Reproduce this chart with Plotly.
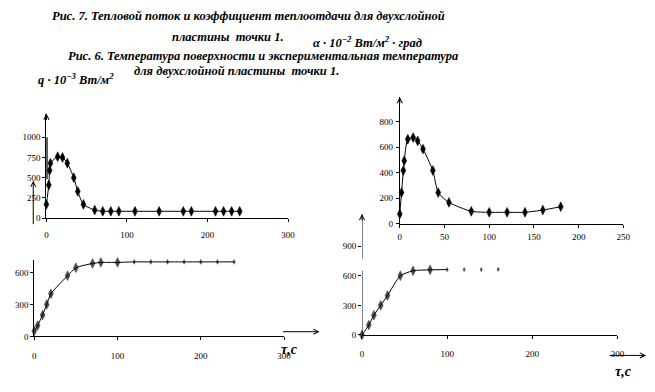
import plotly.graph_objects as go

W, H = 655, 392

# ---- data ----
# top-left: heat flux q·10^-3 W/m^2 vs time
tl_t = [0, 3, 4, 5, 14, 20, 26, 34, 39, 46, 60, 70, 80, 90, 110, 140, 170, 180, 210, 220, 230, 240]
tl_q = [170, 410, 590, 680, 760, 750, 680, 500, 330, 170, 100, 85, 85, 85, 85, 85, 85, 85, 85, 85, 85, 85]

# top-right: heat transfer coefficient alpha·10^-2 vs time
tr_t = [0, 2, 4, 5, 9, 15, 20, 26, 37, 43, 55, 80, 100, 120, 140, 160, 180]
tr_a = [77, 245, 418, 495, 663, 676, 650, 586, 418, 245, 168, 98, 90, 90, 90, 108, 134]

# bottom-left: temperature vs time
bl_t = [0, 4, 10, 15, 20, 40, 50, 70, 80, 100, 120, 140, 160, 180, 200, 220, 240]
bl_v = [50, 100, 200, 300, 400, 570, 645, 685, 695, 695, 700, 700, 700, 700, 700, 700, 700]

# bottom-right: temperature vs time
br_t = [0, 8, 14, 22, 30, 45, 60, 80, 100, 120, 140, 160]
br_v = [0, 100, 200, 300, 400, 600, 650, 660, 662, 662, 662, 665]

# tick values
tl_xticks = [0, 100, 200, 300]
tl_yticks = [0, 250, 500, 750, 1000]
tr_xticks = [0, 50, 100, 150, 200, 250]
tr_yticks = [0, 200, 400, 600, 800]
bl_xticks = [0, 100, 200, 300]
bl_yticks = [0, 300, 600]
br_xticks = [0, 100, 200, 300]
br_yticks = [0, 300, 600, 900]

title1 = "Рис. 7. Тепловой поток и коэффициент теплоотдачи для двухслойной"
title2 = "пластины  точки 1."
title3 = "Рис. 6. Температура поверхности и экспериментальная температура"
title4 = "для двухслойной пластины  точки 1."
unit_a = "α · 10<sup>−2</sup> Вт/м<sup>2</sup> · град"
unit_q = "q · 10<sup>−3</sup> Вт/м<sup>2</sup>"
xlab = "τ,c"

# ---- helpers ----
def fx(px):
    return px / W

def fy(py):
    return 1 - py / H

SERIF = "Liberation Serif"
tickfont = dict(family=SERIF, size=9, color="black")

def axis(rng, ticks, dom, anchor, showline=True, standoff=0):
    return dict(range=rng, tickvals=ticks, domain=dom, anchor=anchor,
                showgrid=False, zeroline=False, showline=showline,
                linecolor="black", linewidth=1, ticks="outside", ticklen=3,
                tickcolor="black", tickwidth=1, tickfont=tickfont,
                ticklabelstandoff=standoff, fixedrange=True)

fig = go.Figure()

MK = dict(symbol="diamond-tall", color="black", line=dict(color="black", width=0.5))
LN = dict(color="black", width=1, shape="spline", smoothing=0.6)

# top-left
fig.add_trace(go.Scatter(x=tl_t, y=tl_q, mode="lines+markers", xaxis="x", yaxis="y",
                         line=LN, marker=dict(size=7, **MK), cliponaxis=False))
# top-right
fig.add_trace(go.Scatter(x=tr_t, y=tr_a, mode="lines+markers", xaxis="x2", yaxis="y2",
                         line=LN, marker=dict(size=7, **MK), cliponaxis=False))
# bottom-left
fig.add_trace(go.Scatter(x=bl_t, y=bl_v, mode="lines+markers", xaxis="x3", yaxis="y3",
                         line=LN, marker=dict(size=[7 if t <= 100 else 3.5 for t in bl_t], **MK),
                         cliponaxis=False))
# bottom-right: line through the first part, isolated dots after
br_line_t = [t for t in br_t if t <= 100]
br_line_v = br_v[:len(br_line_t)]
fig.add_trace(go.Scatter(x=br_line_t, y=br_line_v, mode="lines", xaxis="x4", yaxis="y4",
                         line=LN, cliponaxis=False))
fig.add_trace(go.Scatter(x=br_t, y=br_v, mode="markers", xaxis="x4", yaxis="y4",
                         marker=dict(size=[7 if t <= 80 else 3 for t in br_t], **MK),
                         cliponaxis=False))

fig.update_layout(
    width=W, height=H, autosize=False, showlegend=False,
    margin=dict(l=0, r=0, t=0, b=0),
    paper_bgcolor="white", plot_bgcolor="rgba(0,0,0,0)",
    xaxis=axis([0, 300], tl_xticks, [fx(45), fx(290)], "y", standoff=5),
    yaxis=axis([0, 1293], tl_yticks, [fy(221), fy(115)], "x"),
    xaxis2=axis([0, 250], tr_xticks, [fx(403.3), fx(630)], "y2", standoff=1),
    yaxis2=axis([0, 994], tr_yticks, [fy(226.7), fy(98.3)], "x2", standoff=1),
    xaxis3=axis([0, 300], bl_xticks, [fx(32.7), fx(286)], "y3", standoff=8),
    yaxis3=axis([0, 721], bl_yticks, [fy(340.7), fy(263)], "x3"),
    xaxis4=axis([0, 300], br_xticks, [fx(365), fx(624)], "y4", standoff=7),
    yaxis4=axis([0, 1226], br_yticks, [fy(339.3), fy(216.7)], "x4", showline=False),
)

# broken y axis line of bottom-right chart, thick stub on top-left axis
fig.add_shape(type="line", xref="x4", yref="y4", x0=0, x1=0, y0=0, y1=653,
              line=dict(color="black", width=1))
fig.add_shape(type="line", xref="x4", yref="y4", x0=0, x1=0, y0=773, y1=1226,
              line=dict(color="black", width=1))
fig.add_shape(type="line", xref="x", yref="y", x0=0, x1=0, y0=480, y1=1000,
              line=dict(color="black", width=2.5))

ann = []
# arrow heads on the top of y axes
for xp, yp in [(45, 115), (403.3, 98.3), (365, 216.7)]:
    ann.append(dict(x=fx(xp), y=fy(yp), xref="paper", yref="paper", text="",
                    showarrow=True, ax=0, ay=8, arrowhead=5, arrowsize=1,
                    arrowwidth=1, arrowcolor="black"))
# small stray arrow left of top-left axis
ann.append(dict(x=fx(31.7), y=fy(183), xref="paper", yref="paper", text="",
                showarrow=True, ax=0, ay=45, arrowhead=5, arrowsize=1,
                arrowwidth=1, arrowcolor="black"))
# time arrows
ann.append(dict(x=fx(322), y=fy(336), xref="paper", yref="paper", text="",
                showarrow=True, ax=-38, ay=0, arrowhead=5, arrowsize=1,
                arrowwidth=1, arrowcolor="black"))
ann.append(dict(x=fx(653), y=fy(360), xref="paper", yref="paper", text="",
                showarrow=True, ax=-38, ay=0, arrowhead=5, arrowsize=1,
                arrowwidth=1, arrowcolor="black"))

def txt(s, xp, yp, size=12.5):
    return dict(x=fx(xp), y=fy(yp), xref="paper", yref="paper", text="<b><i>" + s + "</i></b>",
                showarrow=False, xanchor="center", yanchor="middle",
                font=dict(family=SERIF, size=size, color="black"))

ann += [
    txt(title1, 250, 16),
    txt(title2, 229, 37),
    txt(unit_a, 371, 43),
    txt(title3, 265, 57),
    txt(unit_q, 75, 80),
    txt(title4, 238, 72),
    txt(xlab, 292, 354, 14),
    txt(xlab, 630, 376, 14),
]
fig.update_layout(annotations=ann)

fig.write_html("out.html", config={"displayModeBar": False},
               post_script="document.body.style.margin='0px';")
